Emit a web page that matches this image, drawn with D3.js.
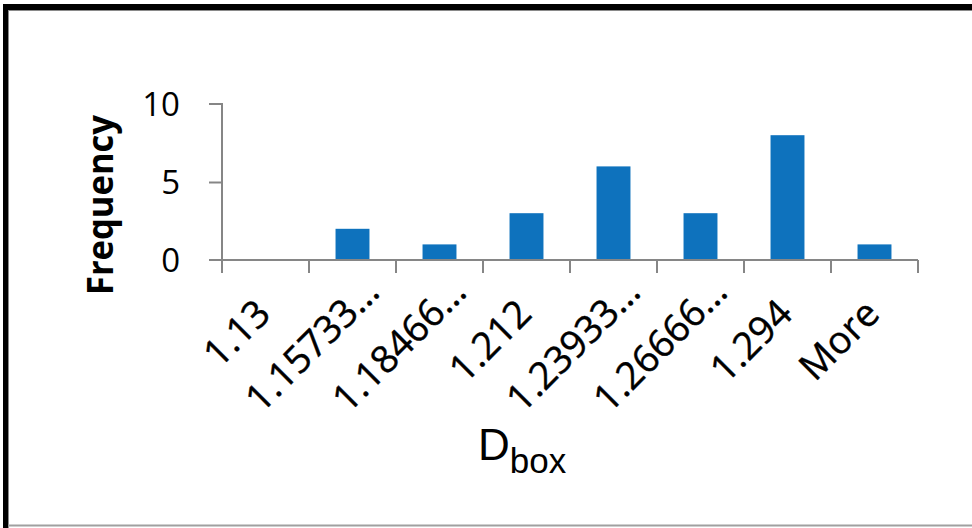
<!DOCTYPE html>
<html><head><meta charset="utf-8">
<script src="https://cdn.jsdelivr.net/npm/d3@7"></script>
<style>html,body{margin:0;padding:0;background:#fff;}svg{display:block;}</style>
</head><body>
<svg id="c" width="972" height="528"></svg>
<script>
const categories = ["1.13","1.15733…","1.18466…","1.212","1.23933…","1.26666…","1.294","More"];
const frequency = [0,2,1,3,6,3,8,1];
const yTicks = [0,5,10];
const yTitle = "Frequency";
const xTitleMain = "D";
const xTitleSub = "box";

const svg = d3.select("#c");
const W = 972, H = 528;
svg.append("rect").attr("width",W).attr("height",H).attr("fill","#fff");

// frame
svg.append("rect").attr("x",3).attr("y",4).attr("width",W-3).attr("height",6).attr("fill","#000");
svg.append("rect").attr("x",3).attr("y",4).attr("width",5).attr("height",H-4).attr("fill","#000");
svg.append("line").attr("x1",8).attr("x2",W).attr("y1",10.5).attr("y2",10.5).attr("stroke","#8a8a8a").attr("stroke-width",1);
svg.append("line").attr("x1",8.5).attr("x2",8.5).attr("y1",10).attr("y2",H).attr("stroke","#8a8a8a").attr("stroke-width",1);
svg.append("line").attr("x1",8).attr("x2",W).attr("y1",525.5).attr("y2",525.5).attr("stroke","#a0a0a0").attr("stroke-width",2);

const x0 = 222, x1 = 918, yBase = 260, yTop = 104;
const x = d3.scaleBand().domain(categories).range([x0,x1]).padding(0);
const y = d3.scaleLinear().domain([0,10]).range([yBase,yTop]);
const axisColor = "#868686";
const font = "'Open Sans', Lato, sans-serif";

// bars
const bw = x.bandwidth()*0.39;
svg.append("g").selectAll("rect").data(categories).join("rect")
  .attr("x",(d)=>x(d)+x.bandwidth()/2-bw/2)
  .attr("y",(d,i)=>y(frequency[i]))
  .attr("width",bw)
  .attr("height",(d,i)=>y(0)-y(frequency[i]))
  .attr("fill","#0E72BD");

// y axis
const ya = svg.append("g").attr("transform",`translate(${x0},0)`)
  .call(d3.axisLeft(y).tickValues(yTicks).tickSize(13).tickPadding(10).tickFormat(d3.format("d")));
ya.select(".domain").attr("stroke",axisColor).attr("stroke-width",2).attr("d",`M-13,${yTop}H0V${yBase+13}`);
ya.selectAll(".tick line").attr("stroke",axisColor).attr("stroke-width",2);
ya.selectAll(".tick text").attr("font-family",font).attr("font-size",33).attr("fill","#000").attr("x",-42).attr("dy","0.36em");
ya.selectAll(".tick").filter(d=>d===0).select("line").remove();
ya.selectAll(".tick").filter(d=>d===10).select("line").remove();

// x axis
const tickPos = categories.map(c=>x(c)).concat([x1]);
const xa = svg.append("g").attr("transform",`translate(0,${yBase})`);
xa.append("line").attr("x1",x0-13).attr("x2",x1).attr("y1",0).attr("y2",0).attr("stroke",axisColor).attr("stroke-width",2);
xa.selectAll("line.t").data(tickPos).join("line").attr("class","t")
  .attr("x1",d=>d).attr("x2",d=>d).attr("y1",0).attr("y2",13).attr("stroke",axisColor).attr("stroke-width",2);

// category labels
svg.append("g").selectAll("text").data(categories).join("text")
  .attr("transform",d=>{
    const cx = x(d)+x.bandwidth()/2;
    const ex = d.endsWith("…") ? 22 : 0;
    return `translate(${cx+7+ex},${316-ex}) rotate(-45)`;
  })
  .attr("text-anchor","end")
  .attr("font-family",font).attr("font-size",38).attr("fill","#000")
  .attr("stroke","#000").attr("stroke-width",0.4)
  .text(d=>d);

// y title
svg.append("text").attr("transform","translate(113,205) rotate(-90)")
  .attr("text-anchor","middle").attr("font-family",font).attr("font-weight","bold")
  .attr("font-size",36).attr("textLength",180).attr("lengthAdjust","spacingAndGlyphs")
  .attr("fill","#000").text(yTitle);

// x title
const xt = svg.append("text").attr("x",478).attr("y",460).attr("font-family","'Liberation Sans', Arial, sans-serif").attr("fill","#000");
xt.append("tspan").attr("font-size",44).text(xTitleMain);
xt.append("tspan").attr("font-size",35).attr("dy",13).text(xTitleSub);
</script>
</body></html>
